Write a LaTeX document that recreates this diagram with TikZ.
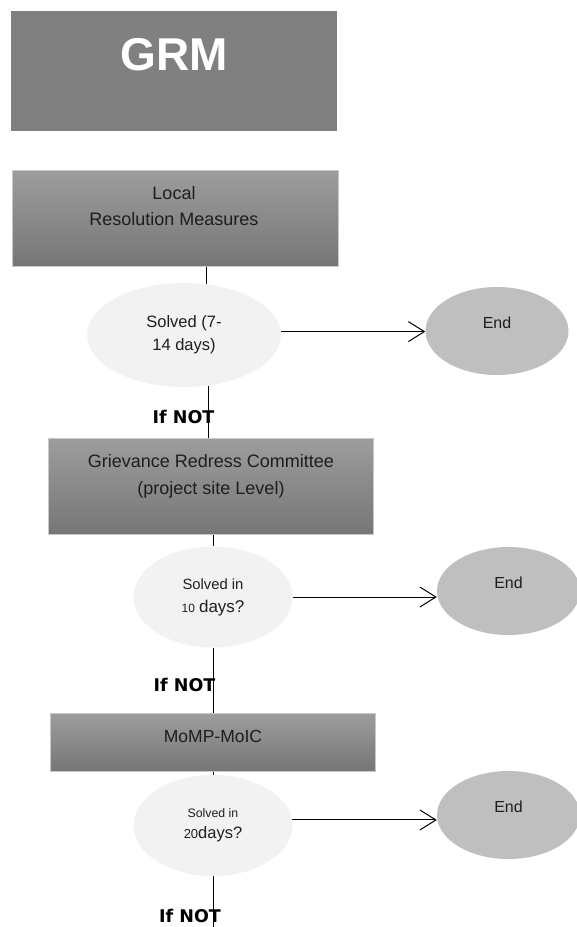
\documentclass[tikz,border=0pt]{standalone}
\usepackage{fontspec}
\setmainfont{Liberation Sans}
\newfontfamily\notfont{DejaVu Sans}
\usetikzlibrary{arrows.meta,shapes.geometric}
\definecolor{grmgray}{HTML}{808080}
\definecolor{boxtop}{HTML}{9D9D9D}
\definecolor{boxbottom}{HTML}{767676}
\definecolor{boxline}{HTML}{C8C8C8}
\definecolor{askfill}{HTML}{F2F2F2}
\definecolor{endfill}{HTML}{BFBFBF}
\definecolor{boxtext}{HTML}{1E1E1E}
\begin{document}
\begin{tikzpicture}[x=1pt,y=-1pt,
        level/.style={draw=boxline,line width=1pt,top color=boxtop,bottom color=boxbottom,minimum width=325pt,inner sep=0pt},
        leveltext/.style={text=boxtext,align=center,inner sep=0pt},
        ask/.style={ellipse,fill=askfill,inner sep=0pt,align=center,text=boxtext},
        stop/.style={ellipse,fill=endfill,minimum width=143pt,minimum height=88pt,inner sep=0pt,text=boxtext,text depth=16pt,font=\fontsize{16}{19}\selectfont},
        ifnot/.style={inner sep=0pt,font=\notfont\bfseries\fontsize{17.5}{20}\selectfont},
        flow/.style={line width=1pt},
        yes/.style={line width=1pt,-{Straight Barb[length=16pt,width=20pt]}}]
    \useasboundingbox (0,0) rectangle (577,927);
    \node[fill=grmgray,minimum width=326pt,minimum height=120pt] (grm) at (174,71) {};
    \node[text=white,inner sep=0pt,font=\bfseries\fontsize{46}{46}\selectfont] (grmtext) at (174,55) {GRM};
    \node[level,minimum width=326pt,minimum height=96pt] (local) at (175,218) {};
    \node[leveltext,font=\fontsize{18}{26}\selectfont] (localtext) at (174,206) {Local\\Resolution Measures};
    \node[ask,minimum width=194pt,minimum height=104pt,font=\fontsize{16.5}{23}\selectfont] (ask1) at (184,335) {Solved (7-\\14 days)};
    \node[level,minimum height=96pt] (committee) at (211,486) {};
    \node[leveltext,font=\fontsize{18}{27}\selectfont] (committeetext) at (211,476) {Grievance Redress Committee\\(project site Level)};
    \node[ask,minimum width=159pt,minimum height=101pt,font=\fontsize{14.8}{23}\selectfont] (ask2) at (213,597)
        {Solved in\\{\fontsize{12}{23}\selectfont 10} {\fontsize{17}{23}\selectfont days?}};
    \node[level,minimum height=58pt] (momp) at (212.5,742) {};
    \node[leveltext,font=\fontsize{17.5}{21}\selectfont] (momptext) at (213,736) {MoMP-MoIC};
    \node[ask,minimum width=159pt,minimum height=101pt,font=\fontsize{12.3}{21}\selectfont] (ask3) at (213,825.5)
        {Solved in\\{\fontsize{13}{21}\selectfont 20}{\fontsize{16.5}{21}\selectfont days?}};
    \foreach \i/\x/\y in {1/497/331,2/508.5/591,3/508.5/815}
        \node[stop] (end\i) at (\x,\y) {End};
    \foreach \i/\x/\y in {1/183.5/417,2/184.5/685,3/190/916}
        \node[ifnot] (not\i) at (\x,\y) {If NOT};
    \coordinate (out) at (213,927);
    \draw[flow] (local.south -| ask1.66) -- (ask1.66);
    \draw[flow] (ask1.-64) -- (committee.north -| ask1.-64);
    \draw[flow] (committee.south -| ask2.north) -- (ask2.north);
    \draw[flow] (ask2.south) -- (momp.north -| ask2.south);
    \draw[flow] (momp.south -| ask3.north) -- (ask3.north);
    \draw[flow] (ask3.south) -- (out);
    \draw[yes] (ask1.2) -- (ask1.2 -| end1.west);
    \draw[yes] (ask2.east) -- (ask2.east -| end2.west);
    \draw[yes] (ask3.4) -- (ask3.4 -| end3.west);
\end{tikzpicture}
\end{document}
